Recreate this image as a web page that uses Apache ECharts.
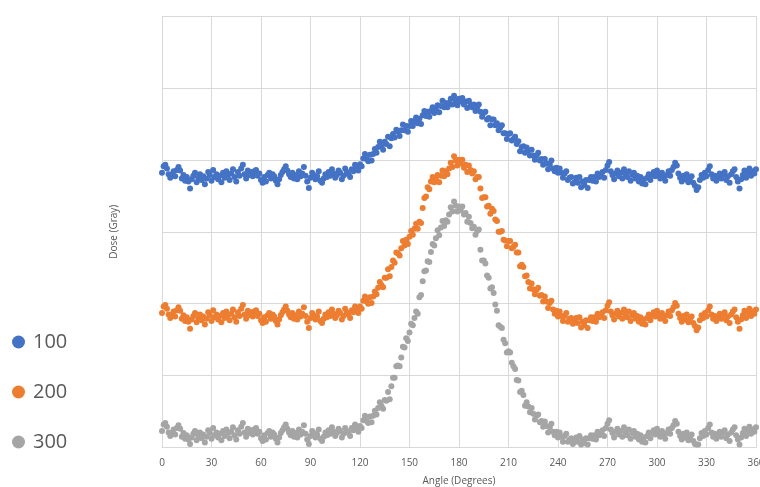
<!DOCTYPE html>
<html>
<head>
<meta charset="utf-8">
<script src="https://cdn.jsdelivr.net/npm/echarts@6/dist/echarts.min.js"></script>
<style>
html,body{margin:0;padding:0;background:#fff;overflow:hidden;width:760px;height:487px;}
#chart{width:760px;height:487px;position:absolute;left:0;top:0;}
</style>
</head>
<body>
<div id="chart"></div>
<script>
// Dose values read per 1 degree, angle 0..360
const series100 = [
3.82,3.91,3.93,3.88,3.80,3.75,3.79,3.84,3.77,3.86,
3.90,3.85,3.74,3.79,3.71,3.76,3.70,3.60,3.73,3.78,
3.82,3.69,3.75,3.80,3.72,3.77,3.66,3.74,3.83,3.79,
3.71,3.86,3.76,3.80,3.73,3.78,3.69,3.82,3.75,3.84,
3.79,3.72,3.81,3.87,3.76,3.70,3.83,3.78,3.88,3.93,
3.80,3.74,3.85,3.79,3.83,3.77,3.84,3.86,3.78,3.81,
3.72,3.68,3.76,3.70,3.79,3.82,3.74,3.80,3.77,3.71,
3.66,3.73,3.79,3.83,3.87,3.91,3.85,3.80,3.76,3.82,
3.74,3.79,3.73,3.84,3.77,3.81,3.90,3.78,3.70,3.61,
3.75,3.82,3.79,3.73,3.77,3.84,3.71,3.68,3.74,3.80,
3.76,3.83,3.78,3.87,3.81,3.75,3.79,3.85,3.82,3.73,
3.78,
3.88,3.83,3.80,3.76,3.87,3.84,3.93,3.90,3.85,3.94,
3.91,4.02,4.08,4.01,3.98,4.07,3.99,4.08,4.15,4.10,
4.18,4.25,4.19,4.14,4.25,4.22,4.32,4.19,4.30,4.36,
4.31,4.42,4.39,4.33,4.41,4.49,4.41,4.47,4.39,4.47,
4.54,4.47,4.54,4.59,4.51,4.57,4.50,4.62,4.68,4.61,
4.67,4.60,4.68,4.73,4.65,4.70,4.76,4.66,4.75,4.82,
4.73,4.79,4.73,4.79,4.85,4.77,4.89,4.83,4.76,4.85,
4.81,4.86,4.77,4.81,4.72,4.82,4.77,4.73,4.77,4.68,
4.73,4.77,4.67,4.60,4.65,4.67,4.56,4.58,4.48,4.56,
4.56,4.48,4.51,4.41,4.45,4.48,4.37,4.37,4.29,4.36,
4.37,4.27,4.29,4.32,4.22,4.26,4.12,4.18,4.19,4.10,
4.17,4.13,4.06,4.14,4.06,4.00,4.06,4.10,3.99,4.01,
3.93,4.01,3.95,3.87,3.94,3.99,3.88,3.84,3.89,3.82,
3.88,3.82,3.75,3.81,3.84,3.72,3.75,3.76,3.67,3.69,
3.75,3.68,3.76,3.62,3.70,3.65,3.72,3.61,3.72,3.76,
3.71,3.76,3.70,3.81,3.76,
3.78,3.83,3.75,3.86,3.92,3.97,3.84,3.79,3.73,3.81,
3.85,3.77,3.82,3.74,3.87,3.80,3.76,3.84,3.71,3.79,
3.82,3.74,3.78,3.70,3.76,3.67,3.73,3.66,3.75,3.80,
3.72,3.79,3.83,3.77,3.85,3.80,3.74,3.82,3.77,3.71,
3.79,3.84,3.78,3.86,3.90,3.96,3.92,3.81,3.75,3.70,
3.78,3.73,3.80,3.69,3.74,3.77,3.68,3.64,3.58,3.62,
3.72,3.79,3.75,3.82,3.77,3.86,3.91,3.80,3.74,3.78,
3.71,3.76,3.81,3.74,3.79,3.83,3.72,3.77,3.68,3.80,
3.84,3.87,3.76,3.70,3.60,3.73,3.79,3.85,3.75,3.82,
3.88,3.78,3.84,3.81,3.87
];
const series200 = [
1.87,1.96,1.98,1.93,1.85,1.80,1.84,1.89,1.82,1.91,
1.95,1.90,1.79,1.84,1.76,1.81,1.75,1.65,1.78,1.83,
1.87,1.74,1.80,1.85,1.77,1.82,1.71,1.79,1.88,1.84,
1.76,1.91,1.81,1.85,1.78,1.83,1.74,1.87,1.80,1.89,
1.84,1.77,1.86,1.92,1.81,1.75,1.88,1.83,1.93,1.98,
1.85,1.79,1.90,1.84,1.88,1.82,1.89,1.91,1.83,1.86,
1.77,1.73,1.81,1.75,1.84,1.87,1.79,1.85,1.82,1.76,
1.71,1.78,1.84,1.88,1.92,1.96,1.90,1.85,1.81,1.87,
1.79,1.84,1.78,1.89,1.82,1.86,1.95,1.83,1.75,1.66,
1.80,1.87,1.84,1.78,1.82,1.89,1.76,1.73,1.79,1.85,
1.81,1.88,1.83,1.92,1.86,1.80,1.84,1.90,1.87,1.78,
1.83,
1.93,1.88,1.85,1.80,1.91,1.88,1.96,1.92,1.87,1.96,
1.93,2.04,2.10,2.03,2.00,2.09,2.01,2.10,2.17,2.13,
2.22,2.30,2.26,2.23,2.36,2.36,2.48,2.38,2.51,2.60,
2.57,2.71,2.70,2.67,2.77,2.87,2.81,2.89,2.83,2.93,
3.01,2.96,3.04,3.11,3.04,3.14,3.12,3.33,3.47,3.49,
3.62,3.59,3.70,3.76,3.69,3.73,3.79,3.69,3.78,3.85,
3.77,3.84,3.80,3.88,3.96,3.90,4.05,3.99,3.92,4.00,
3.95,4.00,3.89,3.93,3.83,3.92,3.86,3.81,3.84,3.73,
3.76,3.76,3.60,3.47,3.48,3.48,3.35,3.36,3.25,3.32,
3.29,3.17,3.15,3.00,3.00,3.01,2.89,2.88,2.80,2.87,
2.87,2.77,2.79,2.82,2.71,2.71,2.52,2.54,2.51,2.38,
2.39,2.30,2.21,2.28,2.20,2.13,2.19,2.22,2.11,2.12,
2.03,2.10,2.03,1.94,2.01,2.04,1.92,1.86,1.90,1.82,
1.89,1.83,1.76,1.83,1.87,1.75,1.79,1.80,1.72,1.74,
1.80,1.73,1.81,1.67,1.75,1.70,1.77,1.66,1.77,1.81,
1.76,1.81,1.75,1.86,1.81,
1.83,1.88,1.80,1.91,1.97,2.02,1.89,1.84,1.78,1.86,
1.90,1.82,1.87,1.79,1.92,1.85,1.81,1.89,1.76,1.84,
1.87,1.79,1.83,1.75,1.81,1.72,1.78,1.71,1.80,1.85,
1.77,1.84,1.88,1.82,1.90,1.85,1.79,1.87,1.82,1.76,
1.84,1.89,1.83,1.91,1.95,2.01,1.97,1.86,1.80,1.75,
1.83,1.78,1.85,1.74,1.79,1.82,1.73,1.69,1.63,1.67,
1.77,1.84,1.80,1.87,1.82,1.91,1.96,1.85,1.79,1.83,
1.76,1.81,1.86,1.79,1.84,1.88,1.77,1.82,1.73,1.85,
1.89,1.92,1.81,1.75,1.65,1.78,1.84,1.90,1.80,1.87,
1.93,1.83,1.89,1.86,1.92
];
const series300 = [
0.23,0.32,0.34,0.29,0.21,0.16,0.20,0.25,0.18,0.27,
0.31,0.26,0.15,0.20,0.12,0.17,0.11,0.05,0.14,0.19,
0.23,0.10,0.16,0.21,0.13,0.18,0.07,0.15,0.24,0.20,
0.12,0.27,0.17,0.21,0.14,0.19,0.10,0.23,0.16,0.25,
0.20,0.13,0.22,0.28,0.17,0.11,0.24,0.19,0.29,0.34,
0.21,0.15,0.26,0.20,0.24,0.18,0.25,0.27,0.19,0.22,
0.13,0.09,0.17,0.11,0.20,0.23,0.15,0.21,0.18,0.12,
0.07,0.14,0.20,0.24,0.28,0.32,0.26,0.21,0.17,0.23,
0.15,0.20,0.14,0.25,0.18,0.22,0.31,0.19,0.11,0.05,
0.16,0.23,0.20,0.14,0.18,0.25,0.12,0.09,0.15,0.21,
0.17,0.24,0.19,0.28,0.22,0.16,0.20,0.26,0.23,0.14,
0.19,
0.27,0.23,0.20,0.16,0.27,0.24,0.32,0.28,0.22,0.30,
0.27,0.38,0.44,0.37,0.34,0.43,0.35,0.44,0.51,0.46,
0.55,0.63,0.58,0.54,0.66,0.65,0.77,0.67,0.85,0.97,
0.97,1.13,1.14,1.13,1.25,1.40,1.39,1.52,1.48,1.60,
1.72,1.70,1.80,1.89,1.86,2.09,2.12,2.31,2.45,2.46,
2.59,2.58,2.72,2.83,2.81,2.91,3.02,2.95,3.06,3.15,
3.08,3.16,3.14,3.24,3.34,3.28,3.42,3.36,3.28,3.35,
3.30,3.35,3.24,3.26,3.14,3.21,3.12,3.05,3.07,2.96,
3.01,3.03,2.75,2.60,2.60,2.56,2.39,2.36,2.21,2.23,
2.15,1.99,1.90,1.70,1.68,1.66,1.50,1.45,1.32,1.34,
1.32,1.18,1.13,1.09,0.94,0.93,0.77,0.79,0.73,0.58,
0.63,0.57,0.49,0.55,0.47,0.39,0.44,0.46,0.35,0.37,
0.29,0.36,0.30,0.21,0.28,0.33,0.22,0.17,0.22,0.14,
0.21,0.15,0.08,0.16,0.19,0.08,0.11,0.13,0.05,0.08,
0.14,0.08,0.16,0.04,0.11,0.06,0.13,0.04,0.13,0.17,
0.12,0.17,0.11,0.22,0.17,
0.19,0.24,0.16,0.27,0.33,0.38,0.25,0.20,0.14,0.22,
0.26,0.18,0.23,0.15,0.28,0.21,0.17,0.25,0.12,0.20,
0.23,0.15,0.19,0.11,0.17,0.08,0.14,0.07,0.16,0.21,
0.13,0.20,0.24,0.18,0.26,0.21,0.15,0.23,0.18,0.12,
0.20,0.25,0.19,0.27,0.31,0.37,0.33,0.22,0.16,0.11,
0.19,0.14,0.21,0.10,0.15,0.18,0.09,0.05,0.04,0.04,
0.13,0.20,0.16,0.23,0.18,0.27,0.32,0.21,0.15,0.19,
0.12,0.17,0.22,0.15,0.20,0.24,0.13,0.18,0.09,0.21,
0.25,0.28,0.17,0.11,0.04,0.14,0.20,0.26,0.16,0.23,
0.29,0.19,0.25,0.22,0.28
];
const seriesNames = ['100', '200', '300'];
const seriesColors = ['#4472C4', '#ED7D31', '#A5A5A5'];
const angleTicks = [0, 30, 60, 90, 120, 150, 180, 210, 240, 270, 300, 330, 360];

const allSeries = [series100, series200, series300];
const toPairs = arr => arr.map((v, i) => [i, v]);

const chart = echarts.init(document.getElementById('chart'), null, {renderer: 'canvas', width: 760, height: 487});
const gridColor = '#d9d9d9';
const textColor = '#595959';
const font = 'Open Sans';

chart.setOption({
  animation: false,
  backgroundColor: '#ffffff',
  grid: {left: 162, right: 4, top: 16, bottom: 39.5, containLabel: false, outerBoundsMode: 'none'},
  legend: {
    data: seriesNames,
    orient: 'vertical',
    left: 7,
    top: 327,
    icon: 'circle',
    itemWidth: 13,
    itemHeight: 13,
    itemGap: 30,
    textStyle: {fontSize: 20, color: textColor, fontFamily: font, lineHeight: 20, padding: [0, 0, 0, 3]}
  },
  xAxis: {
    type: 'value',
    min: angleTicks[0],
    max: angleTicks[angleTicks.length - 1],
    interval: 30,
    name: 'Angle (Degrees)',
    nameLocation: 'middle',
    nameGap: 29,
    nameTextStyle: {color: textColor, fontSize: 10, fontFamily: font},
    axisLine: {lineStyle: {color: gridColor}},
    axisTick: {show: false},
    axisLabel: {color: textColor, fontSize: 10, fontFamily: font, margin: 11},
    splitLine: {show: true, lineStyle: {color: gridColor, width: 1}}
  },
  yAxis: {
    type: 'value',
    min: 0,
    max: 6,
    interval: 1,
    name: 'Dose (Gray)',
    nameLocation: 'middle',
    nameGap: 43,
    nameTextStyle: {color: textColor, fontSize: 10, fontFamily: font},
    axisLine: {show: false},
    axisTick: {show: false},
    axisLabel: {show: false},
    splitLine: {show: true, lineStyle: {color: gridColor, width: 1}}
  },
  series: allSeries.map((arr, k) => ({
    name: seriesNames[k],
    type: 'scatter',
    data: toPairs(arr),
    symbol: 'circle',
    symbolSize: 6,
    itemStyle: {color: seriesColors[k], opacity: 1},
    emphasis: {disabled: true}
  }))
});
</script>
</body>
</html>
